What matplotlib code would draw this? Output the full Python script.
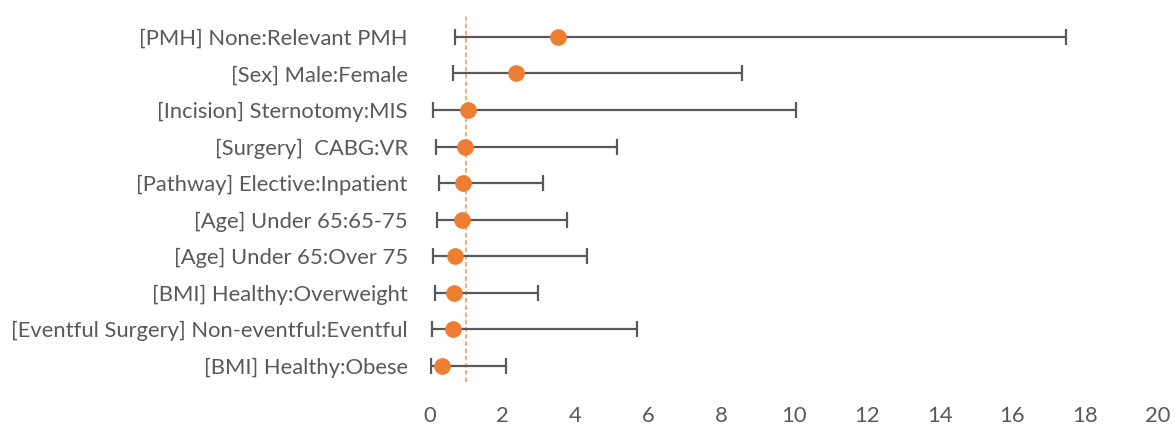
import matplotlib.pyplot as plt
import numpy as np

# forest plot, odds ratios with 95% CI
labels = [
    '[PMH] None:Relevant PMH',
    '[Sex] Male:Female',
    '[Incision] Sternotomy:MIS',
    '[Surgery]  CABG:VR',
    '[Pathway] Elective:Inpatient',
    '[Age] Under 65:65-75',
    '[Age] Under 65:Over 75',
    '[BMI] Healthy:Overweight',
    '[Eventful Surgery] Non-eventful:Eventful',
    '[BMI] Healthy:Obese',
]
odds = [3.53, 2.35, 1.05, 0.96, 0.90, 0.89, 0.69, 0.67, 0.62, 0.32]
lower = [0.69, 0.64, 0.09, 0.16, 0.26, 0.18, 0.09, 0.14, 0.05, 0.03]
upper = [17.46, 8.56, 10.05, 5.15, 3.10, 3.75, 4.30, 2.96, 5.68, 2.09]
ref_line = 1
xticks = [0, 2, 4, 6, 8, 10, 12, 14, 16, 18, 20]

plt.rcParams['font.family'] = ['Lato', 'DejaVu Sans']

grey = '#595959'
orange = '#ED7D31'

fig = plt.figure(figsize=(11.75, 4.26), dpi=100)
ax = fig.add_axes([430 / 1175, 1 - 382 / 426, 728 / 1175, 367 / 426])

y = np.arange(len(labels))
odds = np.array(odds)
err = [odds - np.array(lower), np.array(upper) - odds]

ax.errorbar(odds, y, xerr=err, fmt='none', ecolor=grey, elinewidth=1.6,
            capsize=6, capthick=1.6, zorder=2)
ax.axvline(ref_line, color='#F4A46A', linestyle=(0, (2.5, 1.5)), linewidth=1.3, zorder=1)
ax.plot(odds, y, 'o', color=orange, markersize=11, zorder=3)

ax.set_xlim(0, 20)
ax.set_ylim(9.44, -0.60)
ax.set_xticks(xticks)
ax.set_yticks(y)
ax.set_yticklabels(labels)

for s in ax.spines.values():
    s.set_visible(False)
ax.tick_params(axis='both', length=0, colors=grey, labelsize=15.8)
ax.tick_params(axis='x', pad=17.5)
ax.tick_params(axis='y', pad=16)

fig.savefig('out.png', dpi=100)
